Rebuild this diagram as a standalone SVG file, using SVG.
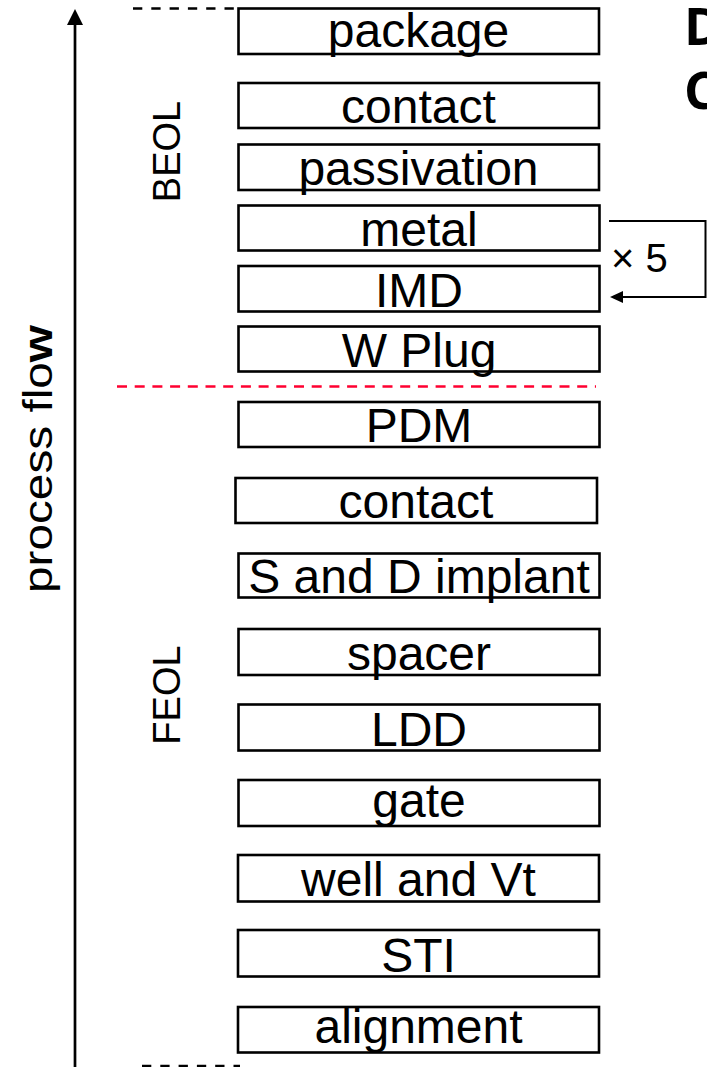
<svg xmlns="http://www.w3.org/2000/svg" width="707" height="1067" viewBox="0 0 707 1067">
<style>
  .box { fill: #ffffff; stroke: #000000; stroke-width: 2.6; }
  .lbl { font-family: "Liberation Sans", Arial, sans-serif; font-size: 48px; fill: #000000; text-anchor: middle; }
  .side { font-family: "Liberation Sans", Arial, sans-serif; font-size: 38px; fill: #000000; text-anchor: middle; }
  .conn { fill: none; stroke: #000000; }
  .title { font-family: "Open Sans", "Noto Sans", sans-serif; font-weight: bold; font-size: 52px; fill: #000000; }
</style>
<defs>
  <marker id="ah" viewBox="0 0 12 12" refX="1" refY="6" markerWidth="12" markerHeight="12" markerUnits="userSpaceOnUse" orient="auto-start-reverse">
    <path d="M0,6 L12,0 L12,12 Z" fill="#000000"/>
  </marker>
</defs>

<g id="connectors">
  <line class="conn" x1="75" y1="22" x2="75" y2="1067" stroke-width="2.7"/>
  <polygon points="75,9 67,25 83,25" fill="#000000"/>
  <line class="conn" x1="133" y1="8.5" x2="234" y2="8.5" stroke-width="2.6" stroke-dasharray="9.3 9"/>
  <line class="conn" x1="142" y1="1066" x2="240" y2="1066" stroke-width="2.6" stroke-dasharray="9.3 9"/>
  <line x1="117" y1="386.5" x2="596" y2="386.5" stroke="#ff0030" stroke-width="2.6" stroke-dasharray="10 7.7"/>
  <path class="conn" d="M609,221 H705.5 V297 H622" stroke-width="2"/>
  <polygon points="610,297 623,291 623,303" fill="#000000"/>
</g>

<g id="labels">
  <text x="52" y="459" transform="rotate(-90 52 459)" text-anchor="middle" font-family="Liberation Sans, Arial, sans-serif" font-size="40" textLength="268" lengthAdjust="spacingAndGlyphs">process flo<tspan font-weight="bold">w</tspan></text>
  <text class="side" x="180" y="151.5" transform="rotate(-90 180 151.5)">BEOL</text>
  <text class="side" x="180" y="695" transform="rotate(-90 180 695)">FEOL</text>
  <text x="611" y="272" font-family="Liberation Sans, Arial, sans-serif" font-size="40">× 5</text>
  <text class="title" x="684" y="45">D</text>
  <text class="title" x="684" y="109">C</text>
</g>

<g id="n-package"><rect class="box" x="238.5" y="8.5" width="360.5" height="45.5"/><text class="lbl" x="418.5" y="47">package</text></g>
<g id="n-contact-beol"><rect class="box" x="238.5" y="83" width="360.5" height="45"/><text class="lbl" x="418.5" y="123">contact</text></g>
<g id="n-passivation"><rect class="box" x="238.5" y="144.5" width="360.5" height="45.5"/><text class="lbl" x="418.5" y="185">passivation</text></g>
<g id="n-metal"><rect class="box" x="238.5" y="205.5" width="361" height="45"/><text class="lbl" x="419" y="246">metal</text></g>
<g id="n-imd"><rect class="box" x="238.5" y="266" width="361" height="45.5"/><text class="lbl" x="419" y="306.5">IMD</text></g>
<g id="n-wplug"><rect class="box" x="238.5" y="326.5" width="361" height="45"/><text class="lbl" x="419" y="366.5">W Plug</text></g>
<g id="n-pdm"><rect class="box" x="238.5" y="402" width="361" height="45"/><text class="lbl" x="419" y="442">PDM</text></g>
<g id="n-contact-feol"><rect class="box" x="235.5" y="478" width="361.5" height="45"/><text class="lbl" x="416" y="518">contact</text></g>
<g id="n-sd-implant"><rect class="box" x="238.5" y="553.5" width="361" height="44"/><text class="lbl" x="419" y="593">S and D implant</text></g>
<g id="n-spacer"><rect class="box" x="238.5" y="629" width="361" height="46"/><text class="lbl" x="419" y="670">spacer</text></g>
<g id="n-ldd"><rect class="box" x="238.5" y="704.5" width="361" height="46"/><text class="lbl" x="419" y="745.5">LDD</text></g>
<g id="n-gate"><rect class="box" x="238.5" y="780" width="361" height="46"/><text class="lbl" x="419" y="817">gate</text></g>
<g id="n-well"><rect class="box" x="238" y="855" width="361" height="46.5"/><text class="lbl" x="418.5" y="896">well and Vt</text></g>
<g id="n-sti"><rect class="box" x="238" y="930" width="361" height="46.5"/><text class="lbl" x="418.5" y="971.5">STI</text></g>
<g id="n-alignment"><rect class="box" x="238" y="1007" width="361" height="45.5"/><text class="lbl" x="418.5" y="1043">alignment</text></g>
</svg>
